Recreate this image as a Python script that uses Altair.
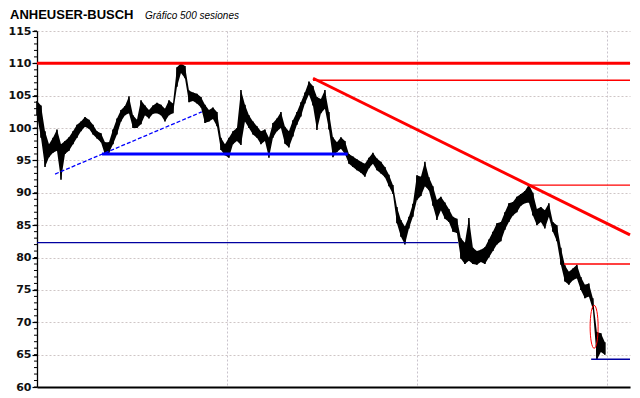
import altair as alt
import pandas as pd

# ---- price data (high / low per sample, every 3.5 sessions) ----
hi = [104.2, 103.5, 99.5, 97.5, 98.5, 99.8, 97.5, 98.0, 98.6, 99.5,
      100.5, 101.0, 101.7, 101.3, 100.5, 99.5, 99.2, 97.8, 97.8, 99.8,
      101.5, 102.8, 103.4, 104.9, 102.0, 101.3, 104.3, 103.5, 102.8, 103.5,
      103.9, 103.6, 103.0, 104.3, 103.8, 109.4, 110.0, 109.6, 105.8, 105.5,
      105.3, 104.8, 103.6, 102.8, 103.2, 102.5, 98.5, 97.5, 98.5, 99.5,
      100.0, 105.9, 103.6, 102.0, 101.0, 100.3, 99.5, 99.8, 98.5, 100.8,
      101.5, 102.5, 100.2, 99.5, 101.2, 102.5, 104.0, 105.5, 107.2, 106.5,
      104.8, 104.5, 105.9, 102.5, 98.6, 97.8, 98.6, 98.0, 96.0, 95.6,
      95.2, 94.8, 94.5, 95.4, 96.2, 95.3, 94.8, 94.0, 92.8, 91.2,
      87.8, 85.8, 84.8, 86.3, 88.3, 92.7, 92.5, 94.8, 92.4, 91.0,
      88.9, 89.4, 88.5, 87.5, 86.3, 86.0, 83.0, 82.3, 86.1, 81.5,
      81.0, 81.2, 81.6, 82.8, 84.0, 85.3, 85.5, 87.0, 88.4, 88.6,
      89.4, 89.8, 90.3, 91.3, 90.0, 87.5, 87.8, 87.3, 88.4, 85.5,
      85.0, 81.5, 78.8, 77.8, 78.3, 78.9, 77.0, 75.8, 76.0, 73.7,
      68.5, 68.3, 66.9]
lo = [102.0, 98.5, 94.0, 95.5, 96.2, 96.5, 92.0, 96.0, 96.5, 97.5,
      98.5, 99.5, 100.2, 99.9, 99.0, 98.4, 97.8, 95.9, 96.2, 97.5,
      99.0, 101.0, 102.0, 102.3, 100.0, 100.0, 100.6, 102.0, 101.5, 102.2,
      102.3, 102.0, 101.0, 102.0, 102.3, 106.4, 108.5, 107.7, 104.0, 104.2,
      103.8, 103.2, 100.8, 101.0, 101.4, 100.3, 96.6, 95.8, 95.4, 97.5,
      98.0, 97.4, 101.0, 100.0, 99.0, 98.5, 97.5, 98.0, 95.4, 98.5,
      99.5, 100.0, 97.6, 97.0, 98.7, 100.5, 101.8, 103.8, 105.2, 103.5,
      99.7, 102.3, 103.0, 99.8, 95.5, 96.3, 96.8, 96.0, 94.5, 94.0,
      93.5, 93.1, 92.5, 93.8, 94.5, 93.5, 93.0, 92.4, 91.0, 89.8,
      85.3, 83.2, 82.0, 84.5, 86.3, 88.9, 89.5, 91.0, 90.4, 88.0,
      85.8, 87.3, 86.0, 85.5, 84.0, 83.8, 79.8, 79.0, 79.5, 79.0,
      78.9, 79.3, 79.0, 80.0, 81.0, 82.0, 82.5, 84.3, 85.5, 86.5,
      87.0, 88.0, 88.4, 88.5, 86.5, 85.0, 85.5, 84.5, 86.3, 84.0,
      82.5, 78.9, 76.3, 75.8, 76.5, 76.8, 75.0, 73.7, 74.0, 72.0,
      64.2, 65.4, 65.0]
step = 3.5
session = [i * step for i in range(len(hi))]

# ---- annotation lines (session start/end, price start/end) ----
seg_name = ["res110", "res107", "trend", "res91", "res79", "sup82", "sup64", "sup96", "uptrend"]
seg_x1 = [0, 241.6, 241.6, 431.6, 461.3, 0, 485.0, 56.9, 15.8]
seg_x2 = [519, 519, 519, 519, 519, 368.6, 519, 272.0, 144.2]
seg_y1 = [110.0, 107.4, 107.7, 91.2, 79.0, 82.3, 64.3, 96.0, 92.9]
seg_y2 = [110.0, 107.4, 83.5, 91.2, 79.0, 82.3, 64.3, 96.0, 102.5]
seg_color = ["#ff0000", "#ff0000", "#ff0000", "#ff0000", "#ff0000",
             "#0000a0", "#0000a0", "#0000ff", "#0000ff"]
seg_width = [3, 1.5, 3, 1.3, 1.5, 1.3, 1.5, 3, 1.3]
seg_dash = [[], [], [], [], [], [], [], [], [4, 2]]

ellipse_x = [487.6]
ellipse_y = [69.3]

y_major = list(range(60, 116, 5))
y_minor = list(range(60, 116, 1))
x_grid = [166.3, 332.7, 499]

XDOM = [0, 519]
YDOM = [60, 115]

xs = alt.Scale(domain=XDOM, nice=False, zero=False)
ys = alt.Scale(domain=YDOM, nice=False, zero=False)

price = pd.DataFrame({"t": session, "hi": hi, "lo": lo})

x_axis = alt.Axis(values=x_grid, labels=False, ticks=False, title=None,
                  grid=True, gridColor="#c9c3cc", gridDash=[2, 2], gridWidth=1,
                  domain=True, domainColor="#000000", domainWidth=2)
y_axis = alt.Axis(values=y_major, title=None, format="d", labelOverlap=False,
                  labelFont="DejaVu Sans", labelFontWeight="bold", labelFontSize=11,
                  labelColor="#111111", labelPadding=1,
                  tickSize=5, tickColor="#000000", tickWidth=1.2,
                  domain=True, domainColor="#000000", domainWidth=1.3,
                  grid=True, gridColor="#cfc6c6", gridDash=[2, 2], gridWidth=1)


def X(field):
    return alt.X(field, scale=xs, axis=x_axis)


def Y(field):
    return alt.Y(field, scale=ys, axis=y_axis)


band = alt.Chart(price).mark_area(color="#000000", opacity=1, strokeWidth=0).encode(
    x=X("t:Q"), y=Y("lo:Q"), y2="hi:Q")
bars = alt.Chart(price).mark_rule(color="#000000", strokeWidth=1.6).encode(
    x=X("t:Q"), y=Y("lo:Q"), y2="hi:Q")

minor = alt.Chart(pd.DataFrame({"v": y_minor})).mark_rule(
    color="#000000", strokeWidth=1).encode(
    x=alt.value(-3), x2=alt.value(0), y=Y("v:Q"))

layers = [band, bars, minor]
for i in range(len(seg_name)):
    d = pd.DataFrame({"x1": [seg_x1[i]], "x2": [seg_x2[i]],
                      "y1": [seg_y1[i]], "y2": [seg_y2[i]]})
    mk = dict(color=seg_color[i], strokeWidth=seg_width[i])
    if seg_dash[i]:
        mk["strokeDash"] = seg_dash[i]
    layers.append(alt.Chart(d).mark_rule(**mk).encode(
        x=X("x1:Q"), x2="x2:Q", y=Y("y1:Q"), y2="y2:Q"))

ellipse = alt.Chart(pd.DataFrame({"t": ellipse_x, "v": ellipse_y})).mark_point(
    shape="M0,-1 A0.186,1 0 1,1 0,1 A0.186,1 0 1,1 0,-1 Z",
    size=1849, filled=False, color="#ff0000", strokeWidth=1, opacity=1).encode(
    x=X("t:Q"), y=Y("v:Q"))
layers.append(ellipse)

title = alt.Chart(pd.DataFrame({"s": ["ANHEUSER-BUSCH"]})).mark_text(
    align="left", baseline="alphabetic", font="Liberation Sans", fontWeight="bold",
    fontSize=13, color="#000000").encode(
    x=alt.value(-27), y=alt.value(-12), text="s:N")
subtitle = alt.Chart(pd.DataFrame({"s": ["Gráfico 500 sesiones"]})).mark_text(
    align="left", baseline="alphabetic", font="Liberation Sans", fontStyle="italic",
    fontSize=10, color="#000000").encode(
    x=alt.value(108), y=alt.value(-12), text="s:N")
layers += [title, subtitle]

chart = alt.layer(*layers).properties(
    width=593, height=356,
    autosize=alt.AutoSizeParams(type="none"),
    padding={"left": 29, "top": 23, "right": 2, "bottom": 7},
    background="#ffffff",
).configure_view(stroke=None)

chart.save("out.html", embed_options={"renderer": "svg", "actions": False})
